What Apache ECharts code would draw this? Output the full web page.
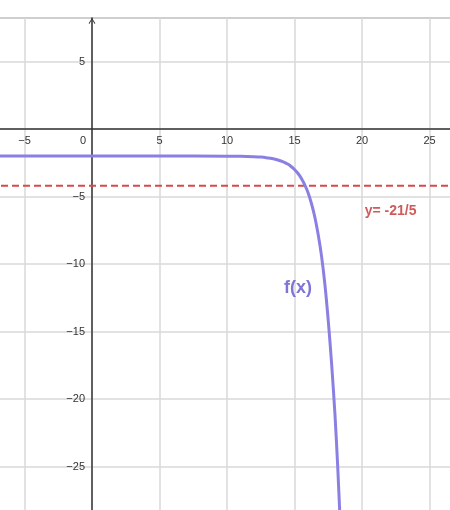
<!DOCTYPE html>
<html>
<head>
<meta charset="utf-8">
<script src="https://cdn.jsdelivr.net/npm/echarts@6/dist/echarts.min.js"></script>
<style>
html,body{margin:0;padding:0;background:#fff;}
#chart{width:450px;height:510px;}
</style>
</head>
<body>
<div id="chart"></div>
<script>
// Data
const curveX = [-10, -5, 0, 5, 10, 11, 12, 12.5, 13, 13.5, 14, 14.25, 14.5, 14.75, 15, 15.25, 15.5, 15.75, 16, 16.25, 16.5, 16.75, 17, 17.25, 17.5, 17.75, 18, 18.2, 18.4];
const curveY = [-2, -2, -2, -2, -2.01, -2.02, -2.05, -2.08, -2.14, -2.22, -2.37, -2.47, -2.6, -2.78, -3.0, -3.28, -3.65, -4.12, -4.7, -5.5, -6.5, -7.8, -9.4, -11.5, -14.2, -17.4, -21.2, -25, -29.5];
const asymptoteY = -21 / 5;
const asymptoteLabel = 'y= -21/5';
const curveLabel = 'f(x)';
const xTicks = [-5, 0, 5, 10, 15, 20, 25];
const yTicks = [-25, -20, -15, -10, -5, 5];

const curveData = curveX.map((x, i) => [x, curveY[i]]);
const font = "'Liberation Sans', Arial, sans-serif";
const minus = v => String(v).replace('-', '\u2212');

const chart = echarts.init(document.getElementById('chart'), null, {renderer: 'canvas'});
chart.setOption({
  animation: false,
  backgroundColor: '#ffffff',
  grid: {
    left: -43, right: -47, top: 18, bottom: -24,
    containLabel: false, outerBoundsMode: 'none',
    show: true, borderColor: '#9a9a9a', borderWidth: 1.5, backgroundColor: 'transparent'
  },
  xAxis: {
    type: 'value', min: -10, max: 30, interval: 5,
    position: 'bottom', offset: -405,
    axisLine: {onZero: false, lineStyle: {color: '#333', width: 1.5}},
    axisTick: {show: false},
    splitLine: {show: true, lineStyle: {color: '#d8d8d8', width: 1.5}},
    axisLabel: {
      color: '#333', fontSize: 11, fontFamily: font, margin: 6,
      formatter: v => v === 0 ? '{z|0}' : (xTicks.includes(v) ? minus(v) : ''),
      rich: {z: {padding: [0, 18, 0, 0], color: '#333', fontSize: 11, fontFamily: font}}
    }
  },
  yAxis: {
    type: 'value', min: -30, max: 8.2222, interval: 5,
    position: 'left', offset: -135,
    axisLine: {onZero: false, lineStyle: {color: '#333', width: 1.5},
      symbol: ['none', 'path://M0 8 L5 0 L10 8 L9 9 L5 2.2 L1 9 Z'], symbolSize: [9, 6], symbolOffset: [0, -3]},
    axisTick: {show: false},
    splitLine: {show: true, lineStyle: {color: '#d8d8d8', width: 1.5}},
    axisLabel: {
      color: '#333', fontSize: 11, fontFamily: font, margin: 7, showMaxLabel: false,
      formatter: v => yTicks.includes(v) ? minus(v) : ''
    }
  },
  series: [
    {
      type: 'line', data: [[-10, asymptoteY], [30, asymptoteY]],
      showSymbol: false, silent: true,
      lineStyle: {color: '#d64a4a', width: 2, type: [7, 4]},
      z: 3
    },
    {
      type: 'line', data: curveData, smooth: 0.3,
      showSymbol: false, silent: true,
      lineStyle: {color: '#8a80e4', width: 3},
      z: 4
    },
    {
      type: 'scatter', symbolSize: 0, silent: true,
      label: {show: true, formatter: asymptoteLabel, position: 'right', distance: 0,
        color: '#c62f2f', fontWeight: 700, fontSize: 14, fontFamily: font},
      data: [[20.2, -6.07]],
      z: 5
    },
    {
      type: 'scatter', symbolSize: 0, silent: true,
      label: {show: true, formatter: curveLabel, position: 'inside',
        color: '#5f52cc', fontWeight: 700, fontSize: 18, fontFamily: font},
      data: [[15.26, -11.8]],
      z: 5
    }
  ]
});
</script>
</body>
</html>
